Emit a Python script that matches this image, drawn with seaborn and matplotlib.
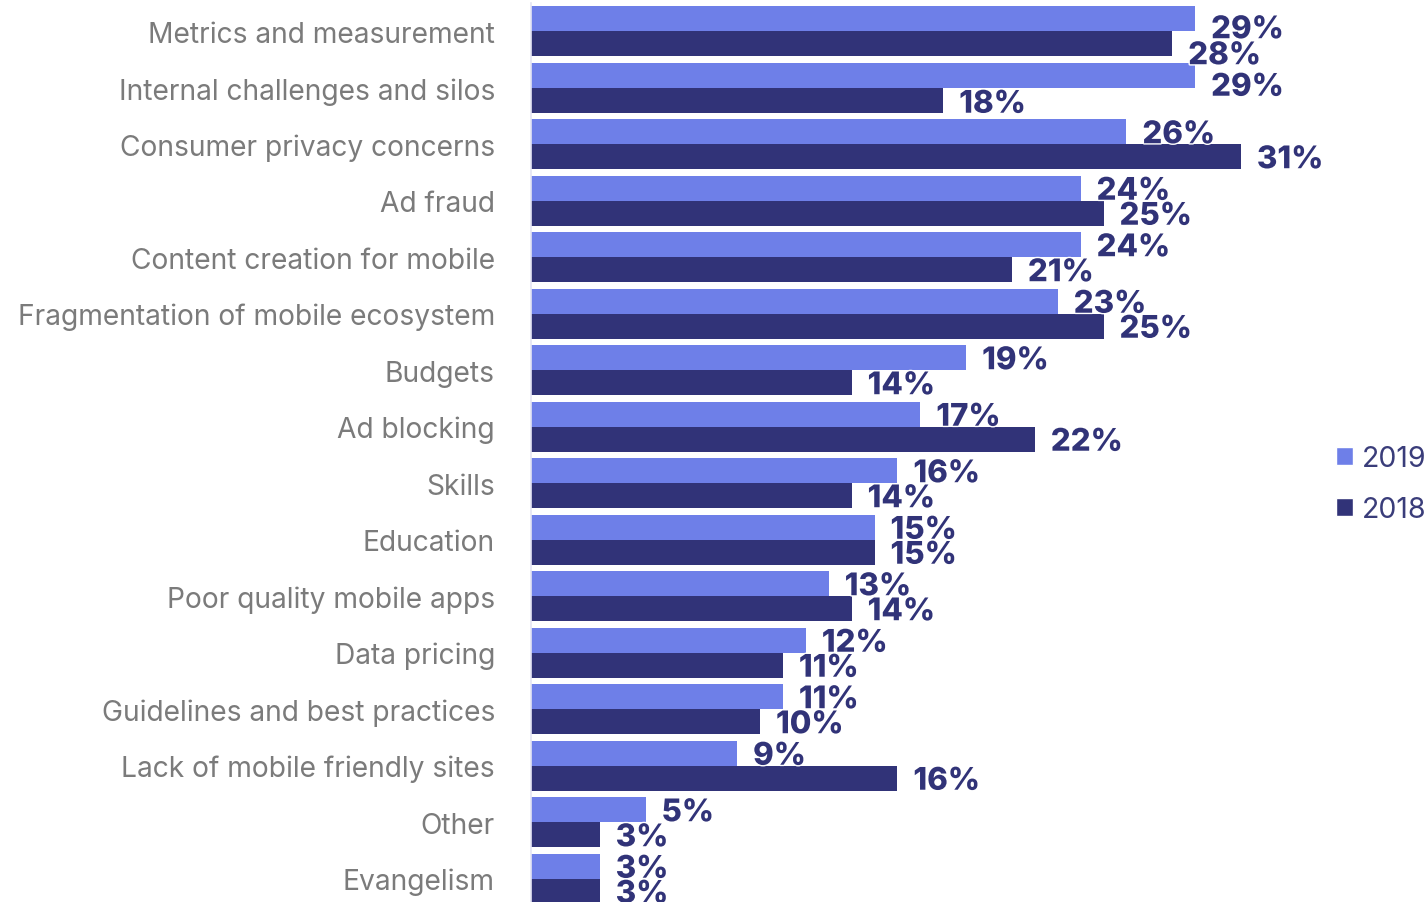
import pandas as pd
import matplotlib.pyplot as plt
import matplotlib.patheffects as pe
import seaborn as sns
from matplotlib.patches import Patch

# ---------- Data ----------
categories = [
    "Metrics and measurement",
    "Internal challenges and silos",
    "Consumer privacy concerns",
    "Ad fraud",
    "Content creation for mobile",
    "Fragmentation of mobile ecosystem",
    "Budgets",
    "Ad blocking",
    "Skills",
    "Education",
    "Poor quality mobile apps",
    "Data pricing",
    "Guidelines and best practices",
    "Lack of mobile friendly sites",
    "Other",
    "Evangelism",
]
values_2019 = [29, 29, 26, 24, 24, 23, 19, 17, 16, 15, 13, 12, 11, 9, 5, 3]
values_2018 = [28, 18, 31, 25, 21, 25, 14, 22, 14, 15, 14, 11, 10, 16, 3, 3]
years = ["2019", "2018"]

color_2019 = "#6e7fe8"
color_2018 = "#313378"
label_gray = "#7b7b7b"

df = pd.DataFrame({
    "category": categories * 2,
    "year": ["2019"] * len(categories) + ["2018"] * len(categories),
    "value": values_2019 + values_2018,
})

# labels at the top are pushed down a little to avoid colliding
label_nudge = {(0, 0): 8, (0, 1): 9, (1, 0): 9, (1, 1): 1}

# ---------- Plot ----------
sns.set_style("white")
plt.rcParams['font.family'] = ['Inter', 'DejaVu Sans']

fig = plt.figure(figsize=(14.26, 9.03), dpi=100)
ax = fig.add_axes([531 / 1426, -5 / 903, 895 / 1426, 904 / 903])

sns.barplot(data=df, y="category", x="value", hue="year", hue_order=years,
            order=categories, orient="h", palette=[color_2019, color_2018],
            width=0.885, linewidth=0, saturation=1, legend=False, ax=ax)

ax.set_xlim(0, 895 / 22.9)
ax.set_ylim(len(categories) - 0.5, -0.5)
ax.set_xlabel("")
ax.set_ylabel("")
ax.set_xticks([])

# category labels and light separator ticks
ax.set_yticks(range(len(categories)))
ax.set_yticklabels(categories, fontsize=20.3, color=label_gray)
ax.tick_params(axis="y", which="major", length=0, pad=26)
ax.set_yticks([i - 0.5 for i in range(len(categories) + 1)], minor=True)
ax.tick_params(axis="y", which="minor", length=7, width=1.2, color="#e4e4f4")

for side in ["top", "right", "bottom"]:
    ax.spines[side].set_visible(False)
ax.spines["left"].set_color("#e4e4f4")
ax.spines["left"].set_linewidth(1.2)

# value labels
for j, container in enumerate(ax.containers):
    for i, patch in enumerate(container):
        w = patch.get_width()
        yc = patch.get_y() + patch.get_height() / 2
        dy = label_nudge.get((i, j), 0) * 0.72
        ax.annotate(f"{w:.0f}%", xy=(w, yc), xytext=(11.5, -dy - 2.5),
                    textcoords="offset points", ha="left", va="center",
                    fontsize=22.5, fontweight="heavy", color=color_2018,
                    path_effects=[pe.withStroke(linewidth=2, foreground="white")])

# legend
handles = [Patch(facecolor=color_2019, label="2019"),
           Patch(facecolor=color_2018, label="2018")]
fig.legend(handles=handles, loc="center right", bbox_to_anchor=(1.0, 0.463),
           frameon=False, fontsize=20.5, labelcolor="#3a3d7a",
           handlelength=0.6, handleheight=0.6, handletextpad=0.3,
           labelspacing=0.85, borderaxespad=0, borderpad=0)

plt.savefig("out.png", dpi=100)
plt.close()
